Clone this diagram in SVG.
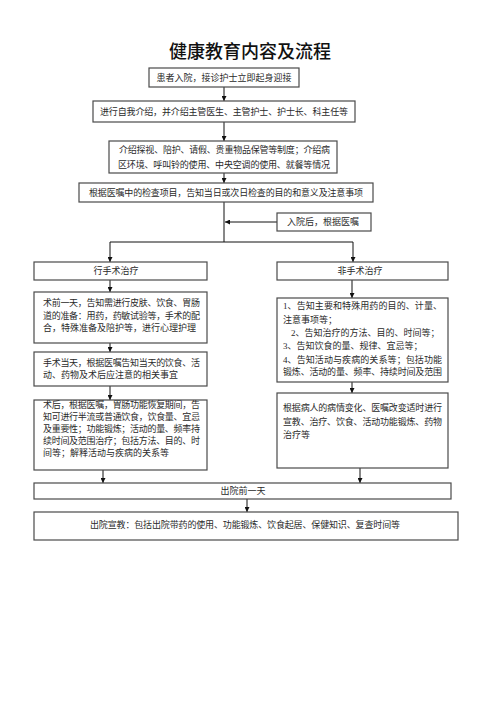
<svg xmlns="http://www.w3.org/2000/svg" width="500" height="707" viewBox="0 0 500 707">
<style>
.box{fill:#fff;stroke:#4a4a4a;stroke-width:1.2}
.t{font-family:"Liberation Serif","Noto Sans CJK SC",serif;font-size:9px;fill:#2a2a2a}
.c{text-anchor:middle}
.title{font-family:"Noto Sans CJK SC","Liberation Sans",sans-serif;font-size:18px;font-weight:500;fill:#111;text-anchor:middle}
.ln{fill:none;stroke:#111;stroke-width:1}
</style>
<defs>
<marker id="ah" viewBox="0 0 10 10" refX="10" refY="5" markerWidth="5" markerHeight="5" orient="auto" markerUnits="userSpaceOnUse">
<path d="M0,0 L10,5 L0,10 z" fill="#111"/>
</marker>
</defs>
<rect width="500" height="707" fill="#fff"/>
<text class="title" x="250" y="58">健康教育内容及流程</text>

<g id="connectors">
<line class="ln" x1="224" y1="87" x2="224" y2="101" marker-end="url(#ah)"/>
<line class="ln" x1="224" y1="122" x2="224" y2="141" marker-end="url(#ah)"/>
<line class="ln" x1="224" y1="173" x2="224" y2="183" marker-end="url(#ah)"/>
<line class="ln" x1="224" y1="202" x2="224" y2="242"/>
<line class="ln" x1="277" y1="222" x2="225" y2="222" marker-end="url(#ah)"/>
<line class="ln" x1="110" y1="242" x2="353" y2="242"/>
<line class="ln" x1="110" y1="242" x2="110" y2="262" marker-end="url(#ah)"/>
<line class="ln" x1="353" y1="242" x2="353" y2="262" marker-end="url(#ah)"/>
<line class="ln" x1="110" y1="280" x2="110" y2="292" marker-end="url(#ah)"/>
<line class="ln" x1="110" y1="343" x2="110" y2="352" marker-end="url(#ah)"/>
<line class="ln" x1="110" y1="386" x2="110" y2="400" marker-end="url(#ah)"/>
<line class="ln" x1="103" y1="462" x2="103" y2="483" marker-end="url(#ah)"/>
<line class="ln" x1="352" y1="280" x2="352" y2="298" marker-end="url(#ah)"/>
<line class="ln" x1="352" y1="382" x2="352" y2="393" marker-end="url(#ah)"/>
<line class="ln" x1="360" y1="468" x2="360" y2="483" marker-end="url(#ah)"/>
<line class="ln" x1="247" y1="499" x2="247" y2="512" marker-end="url(#ah)"/>
</g>

<g id="n1">
<rect class="box" x="149" y="68" width="150" height="19"/>
<text class="t c" x="224" y="80.5">患者入院，接诊护士立即起身迎接</text>
</g>
<g id="n2">
<rect class="box" x="93" y="101" width="262" height="21"/>
<text class="t c" x="224" y="114.5" textLength="248" lengthAdjust="spacing">进行自我介绍，并介绍主管医生、主管护士、护士长、科主任等</text>
</g>
<g id="n3">
<rect class="box" x="109" y="141" width="228" height="32"/>
<text class="t" x="119" y="153" textLength="211" lengthAdjust="spacing">介绍探视、陪护、请假、贵重物品保管等制度；介绍病</text>
<text class="t" x="118" y="168" textLength="212" lengthAdjust="spacing">区环境、呼叫铃的使用、中央空调的使用、就餐等情况</text>
</g>
<g id="n4">
<rect class="box" x="79" y="183" width="294" height="19"/>
<text class="t c" x="226" y="195.5" textLength="274" lengthAdjust="spacing">根据医嘱中的检查项目，告知当日或次日检查的目的和意义及注意事项</text>
</g>
<g id="n5">
<rect class="box" x="277" y="213" width="94" height="18"/>
<text class="t c" x="323" y="225">入院后，根据医嘱</text>
</g>
<g id="n6">
<rect class="box" x="34" y="262" width="173" height="18"/>
<text class="t c" x="116" y="274">行手术治疗</text>
</g>
<g id="n7">
<rect class="box" x="277" y="262" width="171" height="18"/>
<text class="t c" x="360" y="274">非手术治疗</text>
</g>
<g id="n8">
<rect class="box" x="34" y="292" width="173" height="51"/>
<text class="t" x="43" y="306" textLength="157" lengthAdjust="spacing">术前一天，告知需进行皮肤、饮食、胃肠</text>
<text class="t" x="43" y="319" textLength="157" lengthAdjust="spacing">道的准备：用药，药敏试验等，手术的配</text>
<text class="t" x="43" y="331">合，特殊准备及陪护等，进行心理护理</text>
</g>
<g id="n9">
<rect class="box" x="34" y="352" width="173" height="34"/>
<text class="t" x="43" y="366" textLength="157" lengthAdjust="spacing">手术当天，根据医嘱告知当天的饮食、活</text>
<text class="t" x="43" y="378">动、药物及术后应注意的相关事宜</text>
</g>
<g id="n10">
<rect class="box" x="34" y="400" width="173" height="70"/>
<text class="t" x="43" y="408" textLength="157" lengthAdjust="spacing">术后，根据医嘱，胃肠功能恢复期间，告</text>
<text class="t" x="43" y="420" textLength="157" lengthAdjust="spacing">知可进行半流或普通饮食，饮食量、宜忌</text>
<text class="t" x="43" y="432" textLength="157" lengthAdjust="spacing">及重要性；功能锻炼；活动的量、频率持</text>
<text class="t" x="43" y="444" textLength="157" lengthAdjust="spacing">续时间及范围治疗；包括方法、目的、时</text>
<text class="t" x="43" y="456">间等；解释活动与疾病的关系等</text>
</g>
<g id="n11">
<rect class="box" x="277" y="298" width="171" height="84"/>
<text class="t" x="283" y="309" textLength="159" lengthAdjust="spacing">1、告知主要和特殊用药的目的、计量、</text>
<text class="t" x="283" y="323">注意事项等；</text>
<text class="t" x="291" y="336">2、告知治疗的方法、目的、时间等；</text>
<text class="t" x="283" y="349">3、告知饮食的量、规律、宜忌等；</text>
<text class="t" x="283" y="363" textLength="159" lengthAdjust="spacing">4、告知活动与疾病的关系等；包括功能</text>
<text class="t" x="283" y="375" textLength="159" lengthAdjust="spacing">锻炼、活动的量、频率、持续时间及范围</text>
</g>
<g id="n12">
<rect class="box" x="277" y="393" width="171" height="75"/>
<text class="t" x="283" y="411" textLength="159" lengthAdjust="spacing">根据病人的病情变化、医嘱改变适时进行</text>
<text class="t" x="283" y="425" textLength="159" lengthAdjust="spacing">宣教、治疗、饮食、活动功能锻炼、药物</text>
<text class="t" x="283" y="438">治疗等</text>
</g>
<g id="n13">
<rect class="box" x="34" y="483" width="417" height="16"/>
<text class="t c" x="243" y="494">出院前一天</text>
</g>
<g id="n14">
<rect class="box" x="34" y="512" width="424" height="28"/>
<text class="t c" x="245" y="528" textLength="310" lengthAdjust="spacing">出院宣教：包括出院带药的使用、功能锻炼、饮食起居、保健知识、复查时间等</text>
</g>
</svg>
